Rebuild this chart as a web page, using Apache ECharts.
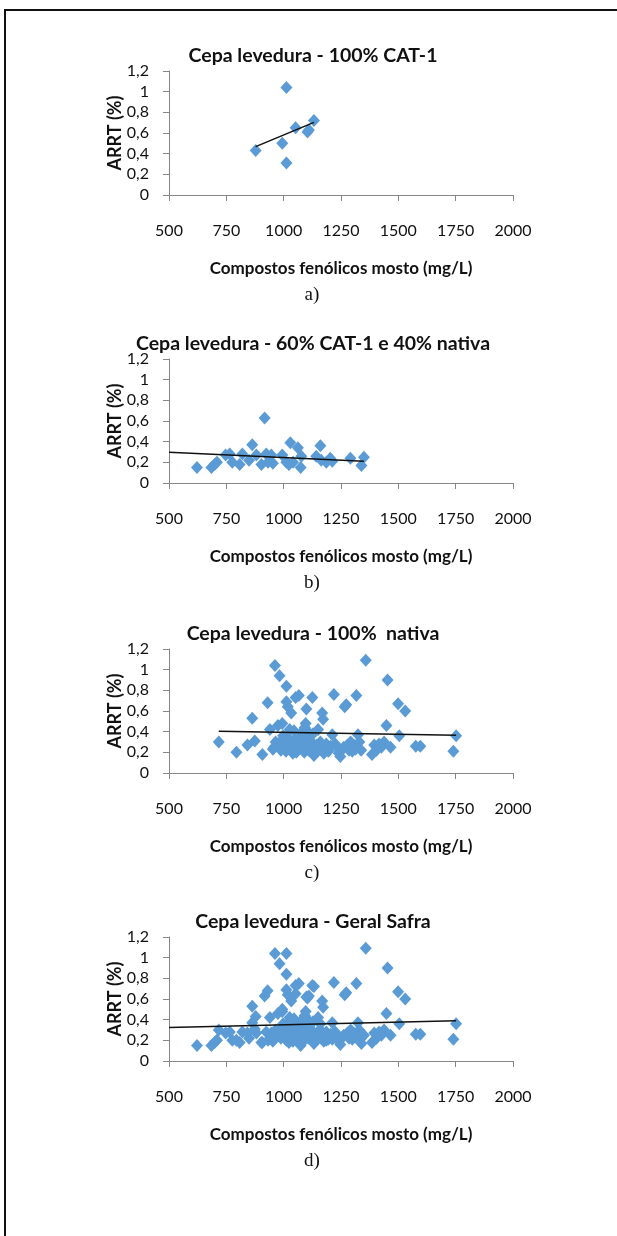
<!DOCTYPE html>
<html><head><meta charset="utf-8">
<script src="https://cdn.jsdelivr.net/npm/echarts@6/dist/echarts.min.js"></script>
<style>html,body{margin:0;padding:0;background:#fff}#c{width:617px;height:1236px}</style>
</head><body><div id="c"></div>
<script>
// ---- tick values / texts ----
const xTicks = [500, 750, 1000, 1250, 1500, 1750, 2000];
const yTicks = [0, 0.2, 0.4, 0.6, 0.8, 1, 1.2];
const panelTitles = [
  'Cepa levedura - 100% CAT-1',
  'Cepa levedura - 60% CAT-1 e 40% nativa',
  'Cepa levedura - 100%  nativa',
  'Cepa levedura - Geral Safra'
];
const captions = ['a)', 'b)', 'c)', 'd)'];
const xAxisTitle = 'Compostos fenólicos mosto (mg/L)';
const yAxisTitle = 'ARRT (%)';

// ---- data: [compostos fenólicos (mg/L), ARRT (%)] ----
const cat1 = [[878,0.43],[994,0.50],[1012,1.04],[1012,0.31],[1052,0.65],[1104,0.61],[1110,0.63],[1132,0.72]];
const mix = [[622,0.15],[685,0.15],[699,0.18],[709,0.20],[747,0.27],[765,0.28],[776,0.20],[808,0.18],[820,0.28],
  [849,0.22],[863,0.37],[881,0.27],[903,0.18],[917,0.63],[924,0.28],[932,0.20],[946,0.27],[953,0.19],[994,0.27],
  [1012,0.20],[1023,0.18],[1029,0.39],[1041,0.20],[1062,0.34],[1074,0.15],[1077,0.26],[1142,0.26],[1160,0.36],
  [1164,0.22],[1186,0.20],[1203,0.24],[1212,0.21],[1291,0.24],[1339,0.17],[1350,0.25]];
const nativa = [[717,0.30],[794,0.20],[842,0.27],[863,0.53],[874,0.31],[907,0.18],[930,0.68],[940,0.42],[953,0.23],
  [958,0.25],[962,1.04],[965,0.30],[975,0.46],[982,0.94],[985,0.30],[988,0.22],[994,0.48],[998,0.36],[1000,0.25],
  [1004,0.33],[1010,0.21],[1012,0.84],[1012,0.69],[1015,0.35],[1018,0.64],[1022,0.27],[1026,0.42],[1030,0.24],
  [1033,0.58],[1036,0.30],[1040,0.19],[1045,0.41],[1048,0.32],[1052,0.73],[1055,0.20],[1058,0.25],[1062,0.22],
  [1066,0.75],[1068,0.30],[1072,0.35],[1076,0.28],[1080,0.40],[1082,0.24],[1087,0.29],[1090,0.20],[1092,0.44],
  [1096,0.48],[1099,0.62],[1100,0.26],[1102,0.41],[1105,0.33],[1108,0.22],[1112,0.35],[1115,0.27],[1118,0.31],
  [1120,0.21],[1125,0.73],[1128,0.38],[1132,0.17],[1135,0.26],[1138,0.19],[1142,0.22],[1145,0.27],[1150,0.42],
  [1155,0.25],[1160,0.30],[1168,0.58],[1172,0.52],[1175,0.19],[1180,0.24],[1186,0.28],[1195,0.21],[1205,0.26],
  [1212,0.37],[1219,0.76],[1225,0.28],[1232,0.25],[1240,0.19],[1247,0.16],[1252,0.22],[1262,0.25],[1266,0.64],
  [1273,0.66],[1278,0.27],[1285,0.22],[1292,0.30],[1299,0.21],[1306,0.27],[1313,0.23],[1317,0.75],[1324,0.37],
  [1330,0.30],[1338,0.22],[1358,1.09],[1385,0.18],[1395,0.27],[1405,0.22],[1416,0.28],[1426,0.25],[1438,0.30],
  [1448,0.46],[1453,0.90],[1466,0.25],[1499,0.67],[1504,0.36],[1530,0.60],[1576,0.26],[1596,0.26],[1740,0.21],
  [1752,0.36]];
// panel d is the whole harvest: union of the three yeast groups
const geral = cat1.concat(mix, nativa);

// ---- linear trend lines as drawn (end points) ----
const trendCat1 = [[878,0.468],[1132,0.703]];
const trendMix = [[500,0.298],[1350,0.211]];
const trendNativa = [[717,0.405],[1752,0.365]];
const trendGeral = [[500,0.323],[1752,0.390]];

const panelData = [cat1, mix, nativa, geral];
const panelTrend = [trendCat1, trendMix, trendNativa, trendGeral];

// ---- layout ----
const gridTops = [71, 359, 649, 937];
const gridH = 124;
const gridLeft = 169, gridW = 344;
const titleDy = -15, captionDy = 100;
const FONT = 'Lato';
const AX = '#868686';
const BLUE = '#5b9bd5';

const grids = [], xAxes = [], yAxes = [], series = [], graphics = [];
const fmtY = v => String(Math.round(v * 10) / 10).replace('.', ',');
const fmtX = v => String(v);

gridTops.forEach((top, i) => {
  grids.push({left: gridLeft, top: top, width: gridW, height: gridH, containLabel: false});
  xAxes.push({
    type: 'value', gridIndex: i, min: xTicks[0], max: xTicks[xTicks.length - 1], interval: 250,
    splitLine: {show: false},
    axisLine: {show: true, lineStyle: {color: AX, width: 1}},
    axisTick: {show: true, inside: false, length: 6, lineStyle: {color: AX}},
    axisLabel: {margin: 28, color: '#111', fontFamily: FONT, fontSize: 16, formatter: fmtX, showMinLabel: true, showMaxLabel: true},
    name: xAxisTitle, nameLocation: 'middle', nameGap: 65, nameMoveOverlap: false,
    nameTextStyle: {fontFamily: FONT, fontWeight: 'bold', fontSize: 17, color: '#111'}
  });
  yAxes.push({
    type: 'value', gridIndex: i, min: 0, max: 1.2, interval: 0.2,
    splitLine: {show: false},
    axisLine: {show: true, lineStyle: {color: AX, width: 1}},
    axisTick: {show: true, inside: false, length: 6, lineStyle: {color: AX}},
    axisLabel: {margin: 20, color: '#111', fontFamily: FONT, fontSize: 16, formatter: fmtY},
    name: yAxisTitle, nameLocation: 'middle', nameGap: 45, nameRotate: 90, nameMoveOverlap: false,
    nameTextStyle: {fontFamily: FONT, fontWeight: 'bold', fontSize: 18, color: '#111'}
  });
  series.push({
    type: 'scatter', xAxisIndex: i, yAxisIndex: i, data: panelData[i],
    symbol: 'diamond', symbolSize: [12, 13],
    itemStyle: {color: BLUE, opacity: 1}, silent: true, z: 2
  });
  series.push({
    type: 'line', xAxisIndex: i, yAxisIndex: i, data: panelTrend[i],
    symbol: 'none', lineStyle: {color: '#111', width: 1.5}, silent: true, z: 3
  });
  graphics.push({
    type: 'text', x: 313, y: top + titleDy,
    style: {text: panelTitles[i], font: 'bold 19.5px ' + FONT, fill: '#111', textAlign: 'center', textVerticalAlign: 'middle'}
  });
  graphics.push({
    type: 'text', x: 312, y: top + gridH + captionDy,
    style: {text: captions[i], font: '19px "Liberation Serif"', fill: '#111', textAlign: 'center', textVerticalAlign: 'middle'}
  });
});
graphics.push({
  type: 'rect', shape: {x: 5, y: 10, width: 640, height: 1260},
  style: {fill: 'none', stroke: '#111', lineWidth: 2}, silent: true
});

const chart = echarts.init(document.getElementById('c'), null, {renderer: 'canvas'});
chart.setOption({
  animation: false,
  backgroundColor: '#fff',
  grid: grids, xAxis: xAxes, yAxis: yAxes, series: series, graphic: graphics
});
</script></body></html>
